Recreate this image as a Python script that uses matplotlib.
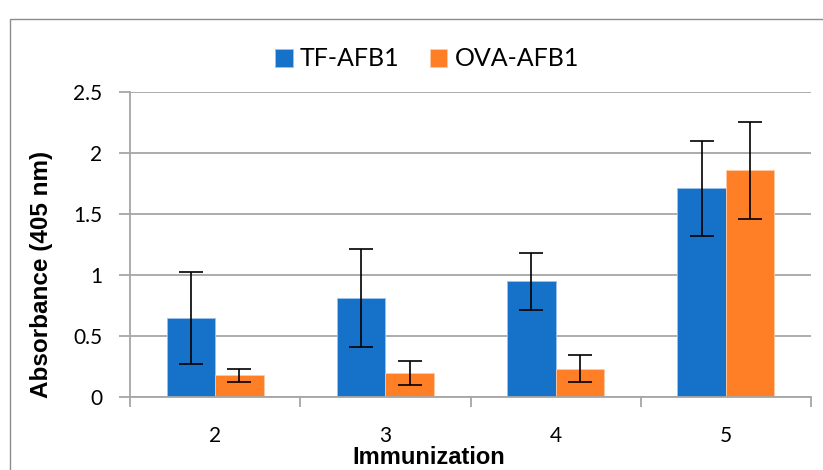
import matplotlib
matplotlib.use("Agg")
import matplotlib.pyplot as plt
import numpy as np
from matplotlib.patches import Rectangle

immunization = ["2", "3", "4", "5"]
tf_afb1 = [0.65, 0.81, 0.95, 1.71]
tf_afb1_err = [0.377, 0.40, 0.234, 0.39]
ova_afb1 = [0.178, 0.195, 0.232, 1.858]
ova_afb1_err = [0.052, 0.10, 0.11, 0.40]
y_ticks = [0, 0.5, 1, 1.5, 2, 2.5]
y_tick_labels = ["0", "0.5", "1", "1.5", "2", "2.5"]

BLUE = "#1672C8"
ORANGE = "#FF7F27"
GRID = "#A6A6A6"

fig = plt.figure(figsize=(8.23, 4.70), dpi=100)
fig.patch.set_facecolor("white")

# chart-area border (runs off the right and bottom edges, as in the source)
fig.patches.append(Rectangle((10 / 823, -0.05), 1.1, 0.05 + (1 - 19 / 470),
                             transform=fig.transFigure, fill=False,
                             edgecolor="#8C8C8C", linewidth=1.0))

ax = fig.add_axes([130 / 823, 1 - 397 / 470, 681 / 823, 305 / 470])
x = np.arange(len(immunization))
w = 0.285
err_kw = {"ecolor": "black", "elinewidth": 1.2, "capsize": 8.5, "capthick": 1.2}
ax.bar(x - w / 2, tf_afb1, w, yerr=tf_afb1_err, color=BLUE, edgecolor="#9CC3EA",
       linewidth=0.6, error_kw=err_kw, label="TF-AFB1", zorder=2)
ax.bar(x + w / 2, ova_afb1, w, yerr=ova_afb1_err, color=ORANGE, edgecolor="#FFC9A3",
       linewidth=0.6, error_kw=err_kw, label="OVA-AFB1", zorder=2)

ax.set_xlim(-0.5, len(immunization) - 0.5)
ax.set_ylim(0, 2.5)
ax.set_yticks(y_ticks, y_tick_labels)
ax.yaxis.grid(True, color=GRID, linewidth=1.3, zorder=0)
ax.set_axisbelow(True)

ax.set_xticks(x, immunization)
ax.set_xticks(np.arange(len(immunization) + 1) - 0.5, minor=True)
ax.tick_params(axis="x", which="major", length=0, pad=21)
ax.tick_params(axis="x", which="minor", length=7, width=1.3, color=GRID)
ax.tick_params(axis="y", length=8, width=1.3, color=GRID, pad=12)
for lbl in ax.get_xticklabels() + ax.get_yticklabels():
    lbl.set_fontfamily("Lato")
    lbl.set_fontsize(15)

for side in ("top", "right"):
    ax.spines[side].set_visible(False)
for side in ("left", "bottom"):
    ax.spines[side].set_color(GRID)
    ax.spines[side].set_linewidth(1.3)

fig.text(429 / 823, 1 - 464 / 470, "Immunization", ha="center", va="baseline",
         fontsize=17, fontweight="bold", family="Liberation Sans")
fig.text(42 / 823, 1 - 274 / 470, "Absorbance (405 nm)", ha="center", va="center",
         rotation=90, fontsize=17.5, fontweight="bold", family="Liberation Sans")

fig.legend(loc="center", bbox_to_anchor=(427 / 823, 1 - 59 / 470), ncol=2,
           frameon=False, prop={"family": "Lato", "size": 18},
           handlelength=0.7, handleheight=0.7, handletextpad=0.3, columnspacing=1.2)

fig.savefig("out.png", dpi=100, facecolor="white")
